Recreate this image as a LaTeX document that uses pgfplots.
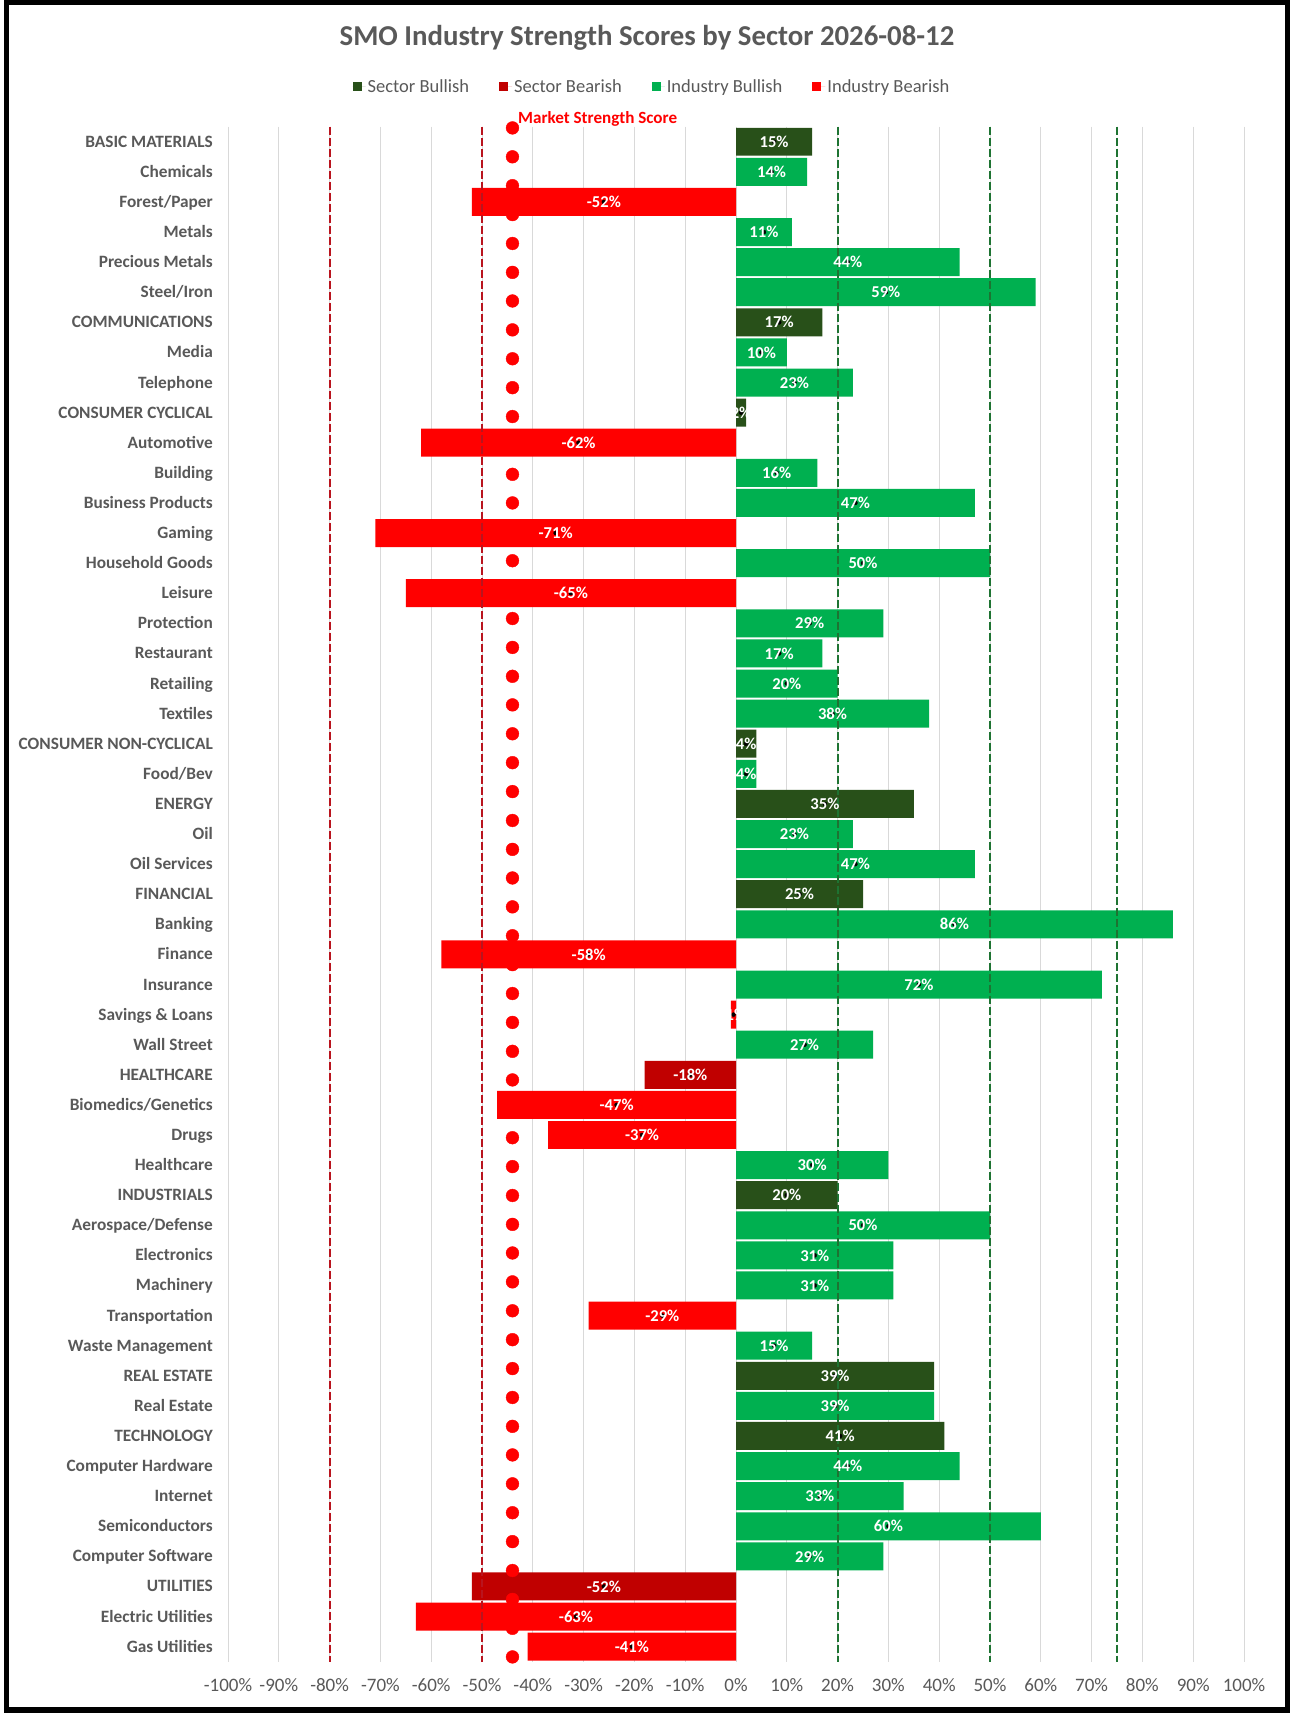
\documentclass[border=0pt]{standalone}
\usepackage{fontspec}
\setmainfont{Carlito}
\usepackage{pgfplots}
\pgfplotsset{compat=1.18}
\usepackage{pgfplotstable}
\definecolor{sbull}{RGB}{40,80,25}
\definecolor{sbear}{RGB}{192,0,0}
\definecolor{ibull}{RGB}{0,176,80}
\definecolor{ibear}{RGB}{255,0,0}
\definecolor{txt}{RGB}{89,89,89}
\definecolor{gridc}{RGB}{217,217,217}
\definecolor{dgreen}{RGB}{30,115,50}
\definecolor{dred}{RGB}{185,20,30}

\pgfplotstableread{
y x
0 15
6 17
9 2
20 4
22 35
25 25
35 20
41 39
43 41
}\sbtab
\pgfplotstableread{
y x
31 -18
48 -52
}\sbeartab
\pgfplotstableread{
y x
1 14
3 11
4 44
5 59
7 10
8 23
11 16
12 47
14 50
16 29
17 17
18 20
19 38
21 4
23 23
24 47
26 86
28 72
30 27
34 30
36 50
37 31
38 31
40 15
42 39
44 44
45 33
46 60
47 29
}\ibtab
\pgfplotstableread{
y x
2 -52
10 -62
13 -71
15 -65
27 -58
29 -1
32 -47
33 -37
39 -29
49 -63
50 -41
}\ibeartab

\pgfplotsset{
  barlab/.style={forget plot, only marks, mark=*, mark options={draw=none,fill=none},
    point meta={\thisrow{x}},
    nodes near coords={\pgfmathprintnumber[fixed,precision=0,assume math mode=true]{\pgfplotspointmeta}\%},
    every node near coord/.append style={font=\bfseries\fontsize{16.6}{18}\selectfont, text=white, inner sep=0pt, anchor=center}},
  mybar/.style={xbar, bar shift=0pt, bar width=0.93, draw=none, fill=#1,
    legend image code/.code={\fill[#1] (0pt,-4.5pt) rectangle (9pt,4.5pt); \path (0pt,0pt) -- (13pt,0pt);}}
}

\begin{document}
\begin{tikzpicture}
\path[use as bounding box] (0,0) rectangle (1294pt,1718pt);
\fill[white] (0,0) rectangle (1294pt,1718pt);
\node[anchor=base, font=\bfseries\fontsize{28.8}{32}\selectfont, text=txt] at (647pt,1672.7pt) {SMO Industry Strength Scores by Sector 2026-08-12};
\begin{axis}[
  at={(228pt,56.3pt)}, anchor=south west,
  scale only axis, width=1016pt, height=1535pt,
  xmin=-100, xmax=100, ymin=-0.5, ymax=50.5, y dir=reverse,
  clip=false,
  axis line style={draw=none},
  major tick length=0pt, tick style={draw=none},
  xtick={-100,-90,...,100},
  xticklabels={-100\%,-90\%,-80\%,-70\%,-60\%,-50\%,-40\%,-30\%,-20\%,-10\%,0\%,10\%,20\%,30\%,40\%,50\%,60\%,70\%,80\%,90\%,100\%},
  xmajorgrids, grid style={gridc, line width=1pt},
  ytick={0,...,50},
  yticklabels={BASIC MATERIALS,Chemicals,Forest/Paper,Metals,Precious Metals,Steel/Iron,COMMUNICATIONS,Media,Telephone,CONSUMER CYCLICAL,Automotive,Building,Business Products,Gaming,Household Goods,Leisure,Protection,Restaurant,Retailing,Textiles,CONSUMER NON-CYCLICAL,Food/Bev,ENERGY,Oil,Oil Services,FINANCIAL,Banking,Finance,Insurance,Savings \& Loans,Wall Street,HEALTHCARE,Biomedics/Genetics,Drugs,Healthcare,INDUSTRIALS,Aerospace/Defense,Electronics,Machinery,Transportation,Waste Management,REAL ESTATE,Real Estate,TECHNOLOGY,Computer Hardware,Internet,Semiconductors,Computer Software,UTILITIES,Electric Utilities,Gas Utilities},
  xticklabel style={font=\fontsize{19}{22}\selectfont, text=txt, inner sep=0pt, anchor=base, yshift=-29.3pt},
  yticklabel style={font=\bfseries\fontsize{17.3}{20}\selectfont, text=txt, inner sep=0pt, anchor=base east, xshift=-15pt, yshift=-5.5pt},
  legend columns=4,
  legend style={draw=none, fill=none, at={(0.4173,1.0261)}, anchor=center,
    font=\fontsize{18.5}{20}\selectfont, text=txt,
    /tikz/every even column/.append style={column sep=28pt}},
  legend cell align=left,
]
% market strength score dots
\addplot[forget plot, only marks, mark=*, mark size=6.4pt, color=ibear] coordinates {
(-44,-0.46) (-44,0.50) (-44,1.46) (-44,2.42) (-44,3.38) (-44,4.34) (-44,5.29) (-44,6.25)
(-44,7.21) (-44,8.17) (-44,9.13) (-44,10.09) (-44,11.05) (-44,12.00) (-44,12.96) (-44,13.92)
(-44,14.88) (-44,15.84) (-44,16.80) (-44,17.76) (-44,18.71) (-44,19.67) (-44,20.63) (-44,21.59)
(-44,22.55) (-44,23.51) (-44,24.46) (-44,25.42) (-44,26.38) (-44,27.34) (-44,28.30) (-44,29.26)
(-44,30.22) (-44,31.17) (-44,32.13) (-44,33.09) (-44,34.05) (-44,35.01) (-44,35.97) (-44,36.92)
(-44,37.88) (-44,38.84) (-44,39.80) (-44,40.76) (-44,41.72) (-44,42.68) (-44,43.63) (-44,44.59)
(-44,45.55) (-44,46.51) (-44,47.47) (-44,48.43) (-44,49.39) (-44,50.34)};
\addplot[mybar=sbull] table[x=x,y=y] {\sbtab};
\addlegendentry{Sector Bullish}
\addplot[mybar=sbear] table[x=x,y=y] {\sbeartab};
\addlegendentry{Sector Bearish}
\addplot[mybar=ibull] table[x=x,y=y] {\ibtab};
\addlegendentry{Industry Bullish}
\addplot[mybar=ibear] table[x=x,y=y] {\ibeartab};
\addlegendentry{Industry Bearish}
% threshold lines
\addplot[forget plot, dred, line width=2pt, dash pattern=on 8pt off 3pt] coordinates {(-80,-0.5) (-80,50.5)};
\addplot[forget plot, dred, line width=2pt, dash pattern=on 8pt off 3pt] coordinates {(-50,-0.5) (-50,50.5)};
\addplot[forget plot, dgreen, line width=2pt, dash pattern=on 8pt off 3pt] coordinates {(20,-0.5) (20,50.5)};
\addplot[forget plot, dgreen, line width=2pt, dash pattern=on 8pt off 3pt] coordinates {(50,-0.5) (50,50.5)};
\addplot[forget plot, dgreen, line width=2pt, dash pattern=on 8pt off 3pt] coordinates {(75,-0.5) (75,50.5)};
% data labels
\addplot[barlab] table[x expr={\thisrow{x}/2}, y=y] {\sbtab};
\addplot[barlab] table[x expr={\thisrow{x}/2}, y=y] {\sbeartab};
\addplot[barlab] table[x expr={\thisrow{x}/2}, y=y] {\ibtab};
\addplot[barlab] table[x expr={\thisrow{x}/2}, y=y] {\ibeartab};
\node[anchor=base west, font=\bfseries\fontsize{17.1}{19}\selectfont, text=ibear, inner sep=0pt, xshift=5.5pt, yshift=3.2pt] at (axis cs:-44,-0.5) {Market Strength Score};
\end{axis}
\draw[line width=5.5pt, black] (6.5pt,8pt) rectangle (1287.5pt,1715.5pt);
\end{tikzpicture}
\end{document}
